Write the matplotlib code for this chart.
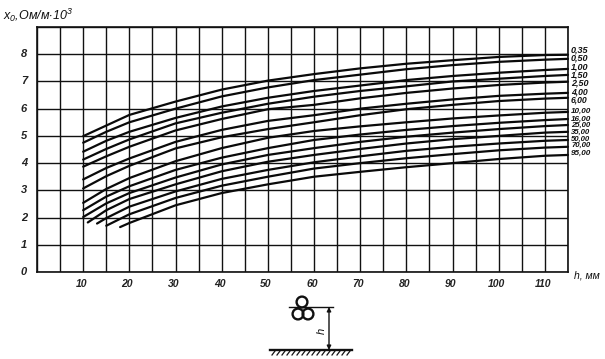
import matplotlib
matplotlib.use('Agg')
import matplotlib.pyplot as plt
from matplotlib.patches import Circle

plt.rcParams['font.family'] = ['Liberation Sans', 'DejaVu Sans']
plt.rcParams['font.style'] = 'italic'
plt.rcParams['mathtext.fontset'] = 'custom'
plt.rcParams['mathtext.it'] = 'Liberation Sans:italic'
plt.rcParams['mathtext.rm'] = 'Liberation Sans:italic'

# h, mm
h_full = [10, 15, 20, 30, 40, 50, 60, 70, 80, 90, 100, 110, 115]
h_35 = [11, 15, 20, 30, 40, 50, 60, 70, 80, 90, 100, 110, 115]
h_50 = [13, 15, 20, 30, 40, 50, 60, 70, 80, 90, 100, 110, 115]
h_70 = [15, 20, 30, 40, 50, 60, 70, 80, 90, 100, 110, 115]
h_95 = [18, 20, 30, 40, 50, 60, 70, 80, 90, 100, 110, 115]

# x0 for each cross-section
x_0_35 = [4.99, 5.38, 5.77, 6.26, 6.7, 7.03, 7.27, 7.48, 7.65, 7.78, 7.9, 7.97, 7.98]
x_0_50 = [4.75, 5.15, 5.5, 6.0, 6.45, 6.78, 7.05, 7.25, 7.45, 7.6, 7.72, 7.8, 7.83]
x_1_00 = [4.42, 4.82, 5.15, 5.66, 6.08, 6.4, 6.65, 6.85, 7.05, 7.2, 7.32, 7.42, 7.46]
x_1_50 = [4.13, 4.52, 4.87, 5.46, 5.85, 6.18, 6.44, 6.65, 6.82, 7.0, 7.1, 7.2, 7.24]
x_2_50 = [3.87, 4.25, 4.6, 5.2, 5.62, 5.98, 6.14, 6.38, 6.58, 6.74, 6.87, 6.96, 6.99]
x_4_00 = [3.4, 3.82, 4.17, 4.78, 5.22, 5.55, 5.76, 6.0, 6.18, 6.34, 6.47, 6.55, 6.58]
x_6_00 = [3.07, 3.52, 3.9, 4.54, 4.95, 5.25, 5.5, 5.76, 5.98, 6.14, 6.28, 6.37, 6.4]
x_10_0 = [2.54, 3.05, 3.45, 4.07, 4.55, 4.93, 5.18, 5.35, 5.5, 5.64, 5.75, 5.85, 5.88]
x_16_0 = [2.27, 2.77, 3.15, 3.75, 4.2, 4.55, 4.85, 5.05, 5.22, 5.36, 5.48, 5.58, 5.62]
x_25_0 = [2.02, 2.52, 2.9, 3.47, 3.95, 4.3, 4.55, 4.78, 4.97, 5.12, 5.25, 5.36, 5.4]
x_35_0 = [1.82, 2.27, 2.68, 3.22, 3.7, 4.05, 4.3, 4.52, 4.72, 4.88, 5.0, 5.12, 5.15]
x_50_0 = [1.78, 1.98, 2.4, 2.96, 3.42, 3.75, 4.03, 4.25, 4.45, 4.6, 4.72, 4.82, 4.85]
x_70_0 = [1.7, 2.12, 2.72, 3.17, 3.5, 3.8, 4.0, 4.18, 4.33, 4.47, 4.57, 4.6]
x_95_0 = [1.65, 1.8, 2.45, 2.9, 3.22, 3.5, 3.68, 3.85, 4.0, 4.15, 4.27, 4.3]

curves = [(h_full, x_0_35), (h_full, x_0_50), (h_full, x_1_00), (h_full, x_1_50),
          (h_full, x_2_50), (h_full, x_4_00), (h_full, x_6_00), (h_full, x_10_0),
          (h_full, x_16_0), (h_full, x_25_0), (h_35, x_35_0), (h_50, x_50_0),
          (h_70, x_70_0), (h_95, x_95_0)]

curve_labels = ['0,35', '0,50', '1,00', '1,50', '2,50', '4,00', '6,00',
                '10,00', '16,00', '25,00', '35,00', '50,00', '70,00', '95,00']
label_y = [8.14, 7.86, 7.53, 7.24, 6.96, 6.62, 6.3, 5.92, 5.62, 5.37, 5.12, 4.89, 4.64, 4.36]
label_size = [6.5, 6.5, 6.5, 6.5, 6.5, 6.2, 6.2, 5.9, 5.9, 5.6, 5.6, 5.6, 5.6, 5.9]

x_ticks = [10, 20, 30, 40, 50, 60, 70, 80, 90, 100, 110]
y_ticks = [0, 1, 2, 3, 4, 5, 6, 7, 8]

W, H = 605, 359
fig = plt.figure(figsize=(W / 100, H / 100), dpi=100)
ax = fig.add_axes([37 / W, 1 - 272 / H, 531 / W, 245 / H])
ax.set_xlim(0, 115)
ax.set_ylim(0, 9)
ax.set_xticks(range(0, 116, 5))
ax.set_yticks(range(0, 10))
ax.tick_params(length=0, labelbottom=False, labelleft=False)
ax.grid(True, color='#111111', lw=1.0)
ax.set_axisbelow(True)
for s in ax.spines.values():
    s.set_linewidth(1.2)
    s.set_color('#111111')

for hh, xx in curves:
    ax.plot(hh, xx, color='#0a0a0a', lw=1.6, solid_capstyle='round', clip_on=False)

# labels at the right end of the curves
for lab, y, fs in zip(curve_labels, label_y, label_size):
    ax.annotate(lab, (115, y), xytext=(3, 0), textcoords='offset pixels',
                fontsize=fs, fontweight='bold', va='center', ha='left',
                color='#111111', annotation_clip=False)

for t in x_ticks:
    ax.annotate(str(t), (t, 0), xytext=(-2, -12), textcoords='offset pixels',
                fontsize=7.5, fontweight='bold', ha='center', va='center', color='#222222')
for t in y_ticks:
    ax.annotate(str(t), (0, t), xytext=(-13, 0), textcoords='offset pixels',
                fontsize=8, fontweight='bold', ha='center', va='center', color='#222222')

fig.text(3 / W, 1 - 15 / H, r'$x_0$,Ом/м$\cdot$10$^{3}$', fontsize=9, va='center', ha='left', color='#111111')
fig.text(574 / W, 1 - 276 / H, 'h, мм', fontsize=7.5, va='center', ha='left', color='#111111')

# cable sketch, drawn in pixel units
sk = fig.add_axes([0, 0, 1, 1])
sk.set_xlim(0, W)
sk.set_ylim(H, 0)
sk.axis('off')
sk.patch.set_alpha(0)
for cx, cy in [(302, 302), (298, 314), (308, 314)]:
    sk.add_patch(Circle((cx, cy), 5.4, fill=False, ec='#111111', lw=1.7))
sk.plot([289, 333], [307, 307], color='#111111', lw=1)
sk.plot([270, 352], [350, 350], color='#111111', lw=1.7)
for hx in range(272, 352, 5):
    sk.plot([hx + 3, hx], [351, 355], color='#111111', lw=0.9)
sk.annotate('', (329, 307), (329, 350), arrowprops=dict(arrowstyle='<|-|>', color='#111111', lw=1, mutation_scale=6, shrinkA=0, shrinkB=0))
sk.text(322, 331, 'h', rotation=90, fontsize=8, ha='center', va='center', color='#111111')

fig.savefig('out.png', dpi=100)
